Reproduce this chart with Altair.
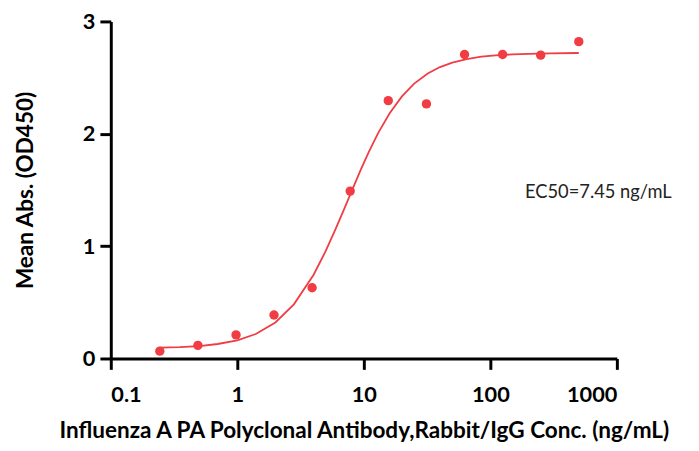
import altair as alt
import pandas as pd

# Measured points (concentration ng/mL, mean absorbance OD450)
conc = [0.244, 0.488, 0.977, 1.95, 3.9, 7.8, 15.6, 31.25, 62.5, 125, 250, 500]
absorb = [0.065, 0.117, 0.21, 0.387, 0.63, 1.49, 2.295, 2.266, 2.706, 2.706, 2.70, 2.82]

# Fitted curve
curve_x = [0.244, 0.35, 0.5, 0.7, 1.0, 1.4, 2.0, 2.8, 4.0, 5.0, 6.0, 7.0, 8.0, 9.5,
           11, 13, 16, 20, 25, 32, 40, 50, 65, 85, 110, 150, 200, 300, 500]
curve_y = [0.096, 0.101, 0.111, 0.129, 0.162, 0.218, 0.321, 0.482, 0.743, 0.957,
           1.155, 1.332, 1.488, 1.685, 1.844, 2.008, 2.183, 2.333, 2.447, 2.537,
           2.594, 2.634, 2.665, 2.686, 2.698, 2.707, 2.712, 2.716, 2.719]

x_ticks = [0.1, 1, 10, 100, 1000]
y_ticks = [0, 1, 2, 3]

label_text = ["EC50=7.45 ng/mL"]
label_x = [188]
label_y = [1.48]

RED = "#F03C42"
FONT = "Lato"

pts = pd.DataFrame({"x": conc, "y": absorb})
crv = pd.DataFrame({"x": curve_x, "y": curve_y})
lbl = pd.DataFrame({"x": label_x, "y": label_y, "t": label_text})

xscale = alt.Scale(type="log", domain=[0.1, 1000])
yscale = alt.Scale(domain=[0, 3])

xaxis = alt.Axis(values=x_ticks, format="~g", title="Influenza A PA Polyclonal Antibody,Rabbit/IgG Conc. (ng/mL)",
                 titleX=256, titleY=73, titleBaseline="middle", titleAlign="center")
yaxis = alt.Axis(values=y_ticks, format="d", title="Mean Abs. (OD450)",
                 titleX=-86, titleY=170.5, titleAngle=-90, titleBaseline="middle", titleAlign="center")

line = alt.Chart(crv).mark_line(color=RED, strokeWidth=1.8, clip=False).encode(
    x=alt.X("x:Q", scale=xscale, axis=xaxis),
    y=alt.Y("y:Q", scale=yscale, axis=yaxis),
)
points = alt.Chart(pts).mark_circle(color=RED, size=90, opacity=1).encode(
    x=alt.X("x:Q", scale=xscale),
    y=alt.Y("y:Q", scale=yscale),
)
text = alt.Chart(lbl).mark_text(align="left", baseline="middle", font=FONT, fontSize=18.5,
                                color="#222222").encode(
    x=alt.X("x:Q", scale=xscale),
    y=alt.Y("y:Q", scale=yscale),
    text="t:N",
)

chart = alt.layer(line, points, text).properties(
    width=512, height=341,
    autosize=alt.AutoSizeParams(type="none"),
    padding={"left": 104, "top": 11, "right": 75, "bottom": 91},
).configure_view(stroke=None).configure_axis(
    grid=False,
    domainColor="black", domainWidth=3,
    tickColor="black", tickWidth=3, tickSize=11,
    labelFont=FONT, labelFontWeight="bold", labelFontSize=22, labelColor="black",
    titleFont=FONT, titleFontWeight="bold", titleFontSize=22.8, titleColor="black",
).configure_axisX(labelPadding=16).configure_axisY(labelPadding=5)

chart.save("out.html", embed_options={"renderer": "svg", "actions": False})
